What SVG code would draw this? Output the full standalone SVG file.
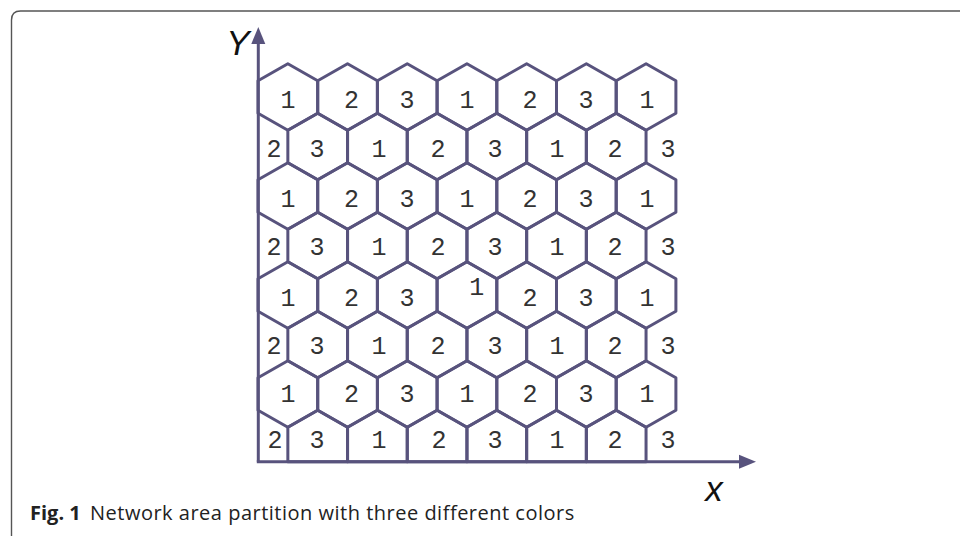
<svg xmlns="http://www.w3.org/2000/svg" xmlns:xlink="http://www.w3.org/1999/xlink" width="960" height="536" viewBox="0 0 960 536">
<style>
.hex{fill:none;stroke:#58537d;stroke-width:3;stroke-linejoin:round}
.ax{stroke:#58537d;stroke-width:3;fill:none}
.ah{fill:#58537d}
.d{font-family:"Liberation Mono","Courier New",monospace;font-size:25px;fill:#333;text-anchor:middle}
.lab{font-family:"Liberation Sans",Arial,sans-serif;font-style:italic;font-size:35px;fill:#111;text-anchor:middle}
.cap{font-family:"Open Sans","Noto Sans",sans-serif;font-size:20px;fill:#222}
</style>
<defs>
<polygon id="hx" class="hex" points="0,-33.25 29.85,-16.25 29.85,16.25 0,33.25 -29.85,16.25 -29.85,-16.25"/>
<polygon id="pt" class="hex" points="-29.85,18.2 -29.85,-16.25 0,-33.25 29.85,-16.25 29.85,18.2"/>
</defs>
<rect width="960" height="536" fill="#fff"/>
<path d="M11.5 536 V20 Q11.5 11 20.5 11 H960" fill="none" stroke="#555" stroke-width="1.4"/>
<!-- row 1 -->
<g id="r1c1"><use xlink:href="#hx" x="287.85" y="97"/><text class="d" x="288" y="108">1</text></g>
<g id="r1c2"><use xlink:href="#hx" x="347.55" y="97"/><text class="d" x="351.5" y="108">2</text></g>
<g id="r1c3"><use xlink:href="#hx" x="407.25" y="97"/><text class="d" x="407" y="108">3</text></g>
<g id="r1c4"><use xlink:href="#hx" x="466.95" y="97"/><text class="d" x="467" y="108">1</text></g>
<g id="r1c5"><use xlink:href="#hx" x="526.65" y="97"/><text class="d" x="530" y="108">2</text></g>
<g id="r1c6"><use xlink:href="#hx" x="586.35" y="97"/><text class="d" x="586" y="108">3</text></g>
<g id="r1c7"><use xlink:href="#hx" x="646.05" y="97"/><text class="d" x="647" y="108">1</text></g>
<!-- row 2 -->
<g id="r2c1"><text class="d" x="274" y="156.5">2</text></g>
<g id="r2c2"><use xlink:href="#hx" x="317.7" y="146.5"/><text class="d" x="317" y="156.5">3</text></g>
<g id="r2c3"><use xlink:href="#hx" x="377.4" y="146.5"/><text class="d" x="379" y="156.5">1</text></g>
<g id="r2c4"><use xlink:href="#hx" x="437.1" y="146.5"/><text class="d" x="438" y="156.5">2</text></g>
<g id="r2c5"><use xlink:href="#hx" x="496.8" y="146.5"/><text class="d" x="495" y="156.5">3</text></g>
<g id="r2c6"><use xlink:href="#hx" x="556.5" y="146.5"/><text class="d" x="557" y="156.5">1</text></g>
<g id="r2c7"><use xlink:href="#hx" x="616.2" y="146.5"/><text class="d" x="615" y="156.5">2</text></g>
<g id="r2c8"><text class="d" x="668" y="156.5">3</text></g>
<!-- row 3 -->
<g id="r3c1"><use xlink:href="#hx" x="287.85" y="196"/><text class="d" x="288" y="207">1</text></g>
<g id="r3c2"><use xlink:href="#hx" x="347.55" y="196"/><text class="d" x="351.5" y="207">2</text></g>
<g id="r3c3"><use xlink:href="#hx" x="407.25" y="196"/><text class="d" x="407" y="207">3</text></g>
<g id="r3c4"><use xlink:href="#hx" x="466.95" y="196"/><text class="d" x="467" y="207">1</text></g>
<g id="r3c5"><use xlink:href="#hx" x="526.65" y="196"/><text class="d" x="530" y="207">2</text></g>
<g id="r3c6"><use xlink:href="#hx" x="586.35" y="196"/><text class="d" x="586" y="207">3</text></g>
<g id="r3c7"><use xlink:href="#hx" x="646.05" y="196"/><text class="d" x="647" y="207">1</text></g>
<!-- row 4 -->
<g id="r4c1"><text class="d" x="274" y="255">2</text></g>
<g id="r4c2"><use xlink:href="#hx" x="317.7" y="245.5"/><text class="d" x="317" y="255">3</text></g>
<g id="r4c3"><use xlink:href="#hx" x="377.4" y="245.5"/><text class="d" x="379" y="255">1</text></g>
<g id="r4c4"><use xlink:href="#hx" x="437.1" y="245.5"/><text class="d" x="438" y="255">2</text></g>
<g id="r4c5"><use xlink:href="#hx" x="496.8" y="245.5"/><text class="d" x="495" y="255">3</text></g>
<g id="r4c6"><use xlink:href="#hx" x="556.5" y="245.5"/><text class="d" x="557" y="255">1</text></g>
<g id="r4c7"><use xlink:href="#hx" x="616.2" y="245.5"/><text class="d" x="615" y="255">2</text></g>
<g id="r4c8"><text class="d" x="668" y="255">3</text></g>
<!-- row 5 -->
<g id="r5c1"><use xlink:href="#hx" x="287.85" y="295"/><text class="d" x="288" y="305.5">1</text></g>
<g id="r5c2"><use xlink:href="#hx" x="347.55" y="295"/><text class="d" x="351.5" y="305.5">2</text></g>
<g id="r5c3"><use xlink:href="#hx" x="407.25" y="295"/><text class="d" x="407" y="305.5">3</text></g>
<g id="r5c4"><use xlink:href="#hx" x="466.95" y="295"/><text class="d" x="476.7" y="294.7">1</text></g>
<g id="r5c5"><use xlink:href="#hx" x="526.65" y="295"/><text class="d" x="530" y="305.5">2</text></g>
<g id="r5c6"><use xlink:href="#hx" x="586.35" y="295"/><text class="d" x="586" y="305.5">3</text></g>
<g id="r5c7"><use xlink:href="#hx" x="646.05" y="295"/><text class="d" x="647" y="305.5">1</text></g>
<!-- row 6 -->
<g id="r6c1"><text class="d" x="274" y="353.5">2</text></g>
<g id="r6c2"><use xlink:href="#hx" x="317.7" y="344.5"/><text class="d" x="317" y="353.5">3</text></g>
<g id="r6c3"><use xlink:href="#hx" x="377.4" y="344.5"/><text class="d" x="379" y="353.5">1</text></g>
<g id="r6c4"><use xlink:href="#hx" x="437.1" y="344.5"/><text class="d" x="438" y="353.5">2</text></g>
<g id="r6c5"><use xlink:href="#hx" x="496.8" y="344.5"/><text class="d" x="495" y="353.5">3</text></g>
<g id="r6c6"><use xlink:href="#hx" x="556.5" y="344.5"/><text class="d" x="557" y="353.5">1</text></g>
<g id="r6c7"><use xlink:href="#hx" x="616.2" y="344.5"/><text class="d" x="615" y="353.5">2</text></g>
<g id="r6c8"><text class="d" x="668" y="353.5">3</text></g>
<!-- row 7 -->
<g id="r7c1"><use xlink:href="#hx" x="287.85" y="394"/><text class="d" x="288" y="401.5">1</text></g>
<g id="r7c2"><use xlink:href="#hx" x="347.55" y="394"/><text class="d" x="351.5" y="401.5">2</text></g>
<g id="r7c3"><use xlink:href="#hx" x="407.25" y="394"/><text class="d" x="407" y="401.5">3</text></g>
<g id="r7c4"><use xlink:href="#hx" x="466.95" y="394"/><text class="d" x="467" y="401.5">1</text></g>
<g id="r7c5"><use xlink:href="#hx" x="526.65" y="394"/><text class="d" x="530" y="401.5">2</text></g>
<g id="r7c6"><use xlink:href="#hx" x="586.35" y="394"/><text class="d" x="586" y="401.5">3</text></g>
<g id="r7c7"><use xlink:href="#hx" x="646.05" y="394"/><text class="d" x="647" y="401.5">1</text></g>
<!-- row 8 -->
<g id="r8c1"><text class="d" x="275" y="448">2</text></g>
<g id="r8c2"><use xlink:href="#pt" x="317.7" y="443.5"/><text class="d" x="317" y="448">3</text></g>
<g id="r8c3"><use xlink:href="#pt" x="377.4" y="443.5"/><text class="d" x="379" y="448">1</text></g>
<g id="r8c4"><use xlink:href="#pt" x="437.1" y="443.5"/><text class="d" x="439" y="448">2</text></g>
<g id="r8c5"><use xlink:href="#pt" x="496.8" y="443.5"/><text class="d" x="495" y="448">3</text></g>
<g id="r8c6"><use xlink:href="#pt" x="556.5" y="443.5"/><text class="d" x="557" y="448">1</text></g>
<g id="r8c7"><use xlink:href="#pt" x="616.2" y="443.5"/><text class="d" x="615" y="448">2</text></g>
<g id="r8c8"><text class="d" x="668" y="448">3</text></g>
<!-- axes -->
<g id="connectors">
<path class="ax" d="M258.3 461.7 V42"/>
<polygon class="ah" points="258.3,27 251.3,44 265.3,44"/>
<path class="ax" d="M256.8 461.7 H742"/>
<polygon class="ah" points="756,461.7 739,454.7 739,468.7"/>
</g>
<g id="labels">
<text class="lab" x="238" y="55">Y</text>
<text class="lab" x="714" y="500.5">x</text>
</g>
<g id="caption">
<text class="cap" x="30" y="520" font-weight="bold">Fig. 1</text>
<text class="cap" x="90" y="520" letter-spacing="0.5">Network area partition with three different colors</text>
</g>
</svg>
